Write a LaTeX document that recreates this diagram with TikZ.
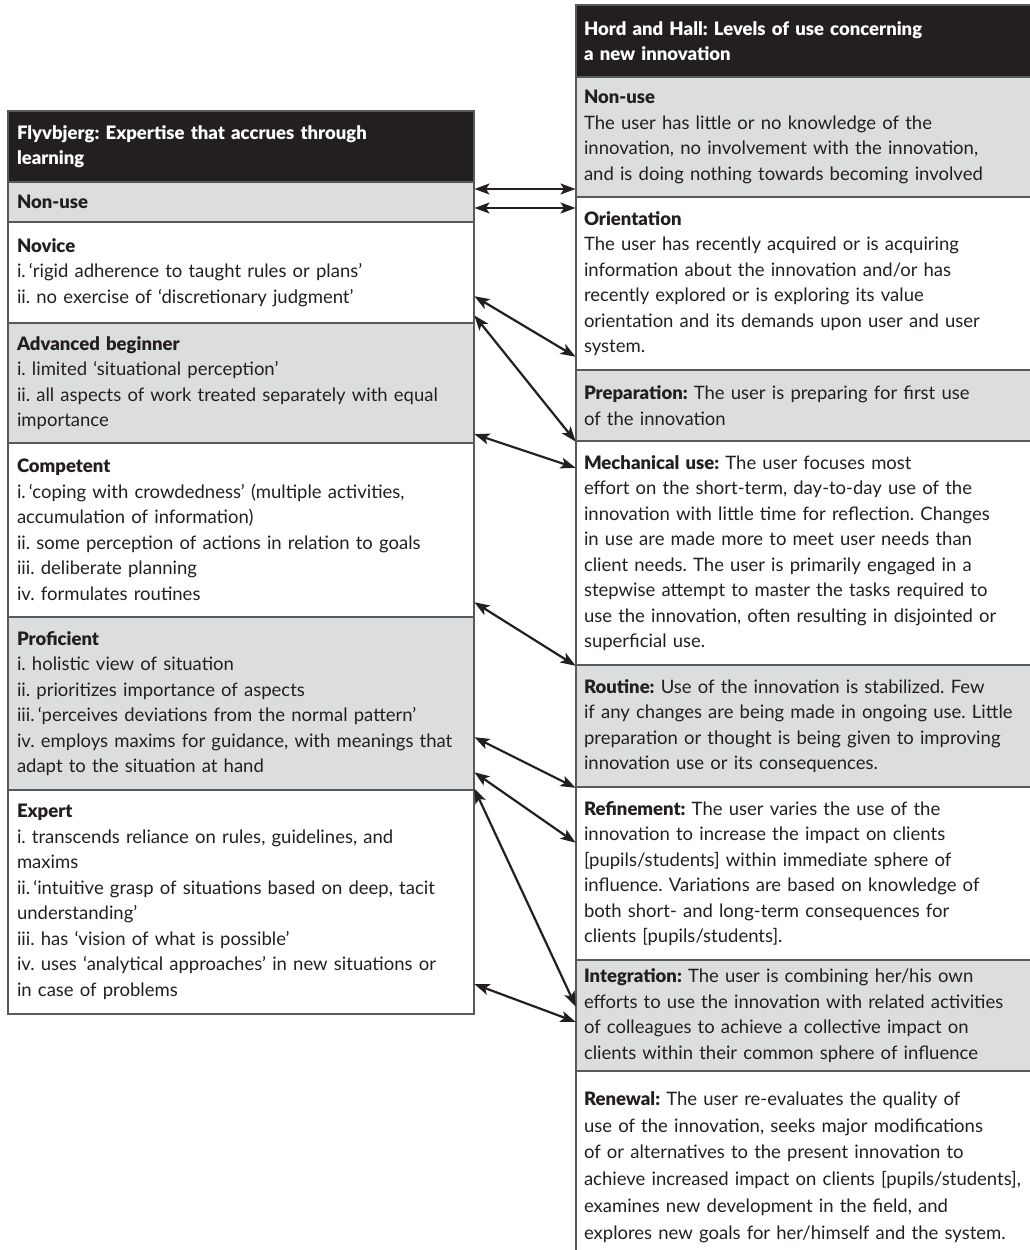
\documentclass[tikz,border=0pt]{standalone}
\usepackage{fontspec}
\setmainfont{Lato}[BoldFont={Lato Black}]
\usetikzlibrary{arrows.meta,calc}
\definecolor{boxgray}{HTML}{DCDDDF}
\definecolor{ink}{HTML}{231F20}
\definecolor{edge}{HTML}{58595B}
\tikzset{
  lbox/.style={draw=edge, line width=1.3pt, anchor=north west, minimum width=466pt,
    text width=448pt, inner xsep=9pt, inner ysep=0pt, outer sep=0pt, align=left,
    font=\fontsize{18.5}{25.5}\selectfont\frenchspacing, text=ink},
  rbox/.style={lbox, minimum width=460pt, text width=444pt, inner xsep=8pt},
  grayfill/.style={fill=boxgray},
  whitefill/.style={fill=white},
  headfill/.style={fill=ink, text=white, font=\fontsize{18.5}{25.5}\selectfont\frenchspacing\bfseries},
  link/.style={{Stealth[length=15pt,width=11pt,inset=3.5pt]}-{Stealth[length=15pt,width=11pt,inset=3.5pt]},
    line width=2.2pt, draw=ink, shorten <=0.5pt, shorten >=0.5pt}
}
\begin{document}
\begin{tikzpicture}[x=1pt,y=-1pt]
\useasboundingbox (0,0) rectangle (1030,1250);
\fill[white] (0,0) rectangle (1030,1250);

% ---------- left column ----------
\node[lbox, headfill, minimum height=71pt] (lhead) at (8,111)
  {Flyvbjerg: Expertise that accrues through\\learning};
\node[lbox, grayfill, minimum height=40pt] (lnon) at (8,182)
  {\textbf{Non-use}};
\node[lbox, whitefill, minimum height=101pt] (lnov) at (8,222)
  {\textbf{Novice}\\
   i.\,‘rigid adherence to taught rules or plans’\\
   ii. no exercise of ‘discretionary judgment’};
\node[lbox, grayfill, minimum height=120pt] (ladv) at (8,323)
  {\textbf{Advanced beginner}\\
   i. limited ‘situational perception’\\
   ii. all aspects of work treated separately with equal\\
   importance};
\node[lbox, whitefill, minimum height=174pt] (lcomp) at (8,443)
  {\textbf{Competent}\\
   i.\,‘coping with crowdedness’ (multiple activities,\\
   accumulation of information)\\
   ii. some perception of actions in relation to goals\\
   iii. deliberate planning\\
   iv. formulates routines};
\node[lbox, grayfill, minimum height=173pt] (lprof) at (8,617)
  {\textbf{Proficient}\\
   i. holistic view of situation\\
   ii. prioritizes importance of aspects\\
   iii.\,‘perceives deviations from the normal pattern’\\
   iv. employs maxims for guidance, with meanings that\\
   adapt to the situation at hand};
\node[lbox, whitefill, minimum height=224pt] (lexp) at (8,790)
  {\textbf{Expert}\\
   i. transcends reliance on rules, guidelines, and\\
   maxims\\
   ii.\,‘intuitive grasp of situations based on deep, tacit\\
   understanding’\\
   iii. has ‘vision of what is possible’\\
   iv. uses ‘analytical approaches’ in new situations or\\
   in case of problems};

% ---------- right column ----------
\node[rbox, headfill, minimum height=72pt] (rhead) at (576,5)
  {Hord and Hall: Levels of use concerning\\a new innovation};
\node[rbox, grayfill, minimum height=120pt] (rnon) at (576,77)
  {\textbf{Non-use}\\
   The user has little or no knowledge of the\\
   innovation, no involvement with the innovation,\\
   and is doing nothing towards becoming involved};
\node[rbox, whitefill, minimum height=173pt] (rorient) at (576,197)
  {\textbf{Orientation}\\
   The user has recently acquired or is acquiring\\
   information about the innovation and/or has\\
   recently explored or is exploring its value\\
   orientation and its demands upon user and user\\
   system.};
\node[rbox, grayfill, minimum height=71pt] (rprep) at (576,370)
  {\textbf{Preparation:} The user is preparing for first use\\
   of the innovation};
\node[rbox, whitefill, minimum height=224pt] (rmech) at (576,441)
  {\textbf{Mechanical use:} The user focuses most\\
   effort on the short-term, day-to-day use of the\\
   innovation with little time for reflection. Changes\\
   in use are made more to meet user needs than\\
   client needs. The user is primarily engaged in a\\
   stepwise attempt to master the tasks required to\\
   use the innovation, often resulting in disjointed or\\
   superficial use.};
\node[rbox, grayfill, minimum height=122pt] (rrout) at (576,665)
  {\textbf{Routine:} Use of the innovation is stabilized. Few\\
   if any changes are being made in ongoing use. Little\\
   preparation or thought is being given to improving\\
   innovation use or its consequences.};
\node[rbox, whitefill, minimum height=173pt] (rrefine) at (576,787)
  {\textbf{Refinement:} The user varies the use of the\\
   innovation to increase the impact on clients\\
   {[pupils/students]} within immediate sphere of\\
   influence. Variations are based on knowledge of\\
   both short- and long-term consequences for\\
   clients [pupils/students].};
\node[rbox, grayfill, minimum height=111pt] (rinteg) at (576,960)
  {\textbf{Integration:} The user is combining her/his own\\
   efforts to use the innovation with related activities\\
   of colleagues to achieve a collective impact on\\
   clients within their common sphere of influence};
\node[rbox, whitefill, minimum height=192pt, font=\fontsize{18.5}{26.8}\selectfont\frenchspacing] (rrenew) at (576,1071)
  {\textbf{Renewal:} The user re-evaluates the quality of\\
   use of the innovation, seeks major modifications\\
   of or alternatives to the present innovation to\\
   achieve increased impact on clients [pupils/students],\\
   examines new development in the field, and\\
   explores new goals for her/himself and the system.};

% ---------- connectors ----------
\draw[link] ([yshift=-7pt]lnon.north east) -- ([yshift=-112pt]rnon.north west);
\draw[link] ([yshift=-26pt]lnon.north east) -- ([yshift=-11pt]rorient.north west);
\draw[link] ([yshift=-74pt]lnov.north east) -- ([yshift=-160pt]rorient.north west);
\draw[link] ([yshift=-93pt]lnov.north east) -- ([yshift=-1pt]rmech.north west);
\draw[link] ([yshift=-111pt]ladv.north east) -- ([yshift=-27pt]rmech.north west);
\draw[link] ([yshift=-159pt]lcomp.north east) -- ([yshift=-1pt]rrout.north west);
\draw[link] ([yshift=-120pt]lprof.north east) -- ([yshift=-1pt]rrefine.north west);
\draw[link] ([yshift=-155pt]lprof.north east) -- ([yshift=-56pt]rrefine.north west);
\draw[link] ([yshift=2pt]lexp.north east) -- ([yshift=-47pt]rinteg.north west);
\draw[link] ([yshift=-194pt]lexp.north east) -- ([yshift=-62pt]rinteg.north west);
\end{tikzpicture}
\end{document}
